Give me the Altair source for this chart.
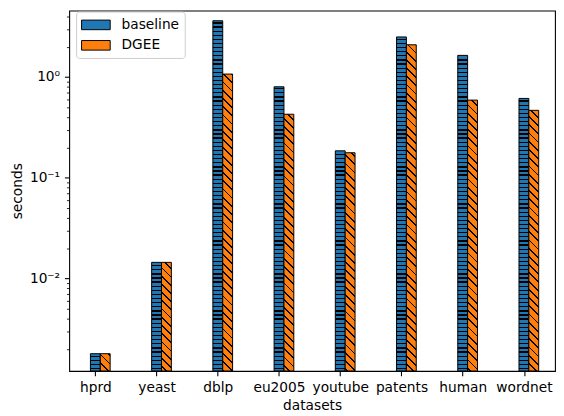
import math
import altair as alt
import pandas as pd

# ---- data ----
datasets = ["hprd", "yeast", "dblp", "eu2005", "youtube", "patents", "human", "wordnet"]
baseline = [0.00179, 0.01445, 3.62, 0.80, 0.185, 2.50, 1.64, 0.613]
dgee = [0.00179, 0.01445, 1.07, 0.427, 0.177, 2.09, 0.59, 0.467]
methods = ["baseline", "DGEE"]
colors = ["#1f77b4", "#ff7f0e"]
major_ticks = [0.01, 0.1, 1]
major_labels = ["10⁻²", "10⁻¹", "10⁰"]
minor_ticks = [0.002, 0.003, 0.004, 0.005, 0.006, 0.007, 0.008, 0.009,
               0.02, 0.03, 0.04, 0.05, 0.06, 0.07, 0.08, 0.09,
               0.2, 0.3, 0.4, 0.5, 0.6, 0.7, 0.8, 0.9,
               2, 3, 4]

# ---- layout / style ----
W, H = 492, 365
XMIN, XMAX = -0.427, 7.508
YMIN, YMAX = 0.001206, 4.569
BW = 0.161
FONT = "DejaVu Sans"
FS = 13.9

rows = []
for i, d in enumerate(datasets):
    for j, (m, vals) in enumerate(zip(methods, [baseline, dgee])):
        rows.append({"dataset": d, "method": m, "value": vals[i],
                     "x0": i + (j - 0.5) * BW, "x1": i + (j + 0.5) * BW,
                     "key": f"{d}|{m}"})
df = pd.DataFrame(rows)

LSPAN = math.log10(YMAX) - math.log10(YMIN)


def px_x(v):
    return (v - XMIN) / (XMAX - XMIN) * W


def px_y(v):
    return (math.log10(YMAX) - math.log10(v)) / LSPAN * H


def clamp(v):
    return round(min(max(v, 0.0), 1.0), 5)


def stripe_stops(bands, base, ink):
    stops = [{"offset": 0, "color": base}]
    for a, b in bands:
        a, b = clamp(a), clamp(b)
        if b <= 0 or a >= 1 or b <= a:
            continue
        stops += [{"offset": a, "color": base}, {"offset": a, "color": ink},
                  {"offset": b, "color": ink}, {"offset": b, "color": base}]
    stops.append({"offset": 1, "color": base})
    return stops


def hatch_h(top, h, base, P=100 / 24, T=1.3):
    bands = []
    for k in range(int(top // P) - 1, int(H // P) + 2):
        yb = k * P - top
        bands.append(((yb - T / 2) / h, (yb + T / 2) / h))
    return {"gradient": "linear", "x1": 0, "y1": 0, "x2": 0, "y2": 1,
            "stops": stripe_stops(bands, base, "black")}


def hatch_d(left, top, w, h, base, Q=100 / 12, T=1.3):
    half = T * math.sqrt(2) / 2
    shift = left - top
    bands = []
    for k in range(int(math.floor((-h + shift) / Q)) - 1, int(math.ceil((w + shift) / Q)) + 2):
        p = k * Q - shift
        bands.append(((p - half + h) / (w + h), (p + half + h) / (w + h)))
    s = (w + h) / (w * w + h * h)
    return {"gradient": "linear", "x1": 0, "y1": 1, "x2": round(w * s, 6), "y2": round(1 - h * s, 6),
            "stops": stripe_stops(bands, base, "black")}


conds = []
for r in rows:
    top = px_y(r["value"])
    h = H - top
    left = px_x(r["x0"])
    w = px_x(r["x1"]) - left
    if r["method"] == "baseline":
        g = hatch_h(top, h, colors[0])
    else:
        g = hatch_d(left, top, w, h, colors[1])
    conds.append({"test": f"datum.key === '{r['key']}'", "value": g})

yscale = alt.Scale(type="log", domain=[YMIN, YMAX], nice=False)
xscale = alt.Scale(domain=[XMIN, XMAX], nice=False, zero=False)

x_label_expr = "[" + ",".join(f"'{d}'" for d in datasets) + "][datum.value]"
y_label_expr = ("[" + ",".join(f"'{l}'" for l in major_labels) + "][indexof(["
                + ",".join(str(t) for t in major_ticks) + "], datum.value)]")

bars = alt.Chart(df).mark_rect(stroke="black", strokeWidth=1).encode(
    x=alt.X("x0:Q", scale=xscale,
            axis=alt.Axis(values=list(range(len(datasets))), labelExpr=x_label_expr,
                          title="datasets", tickSize=4.86, tickWidth=1.1, labelPadding=4.86,
                          titlePadding=4, labelFlush=False, labelOverlap=False)),
    x2="x1:Q",
    y=alt.Y("value:Q", scale=yscale,
            axis=alt.Axis(values=major_ticks, labelExpr=y_label_expr, title="seconds",
                          tickSize=4.86, tickWidth=1.1, labelPadding=4.86, titlePadding=5,
                          orient="left", labelFlush=False, labelOverlap=False)),
    y2=alt.datum(YMIN),
    fill=alt.Fill("method:N", scale=alt.Scale(domain=methods, range=colors),
                  legend=alt.Legend(title=None, orient="none", legendX=7, legendY=1,
                                    symbolType="M-1,-0.606L2.625,-0.606L2.625,0.606L-1,0.606Z",
                                    symbolSize=256, symbolStrokeColor="black", symbolStrokeWidth=1,
                                    labelFontSize=FS, labelFont=FONT, labelColor="black",
                                    labelOffset=24, rowPadding=4.7, padding=5,
                                    strokeColor="#cccccc", fillColor="white", cornerRadius=3),
                  condition=conds),
)

minor = alt.Chart(df).mark_rule(opacity=0).encode(
    y=alt.Y("value:Q", scale=yscale,
            axis=alt.Axis(values=minor_ticks, orient="left", labels=False, tickSize=2.78,
                          tickWidth=0.83, title=None, domain=False, grid=False)),
)

chart = alt.layer(bars, minor).resolve_axis(y="independent").properties(
    width=W, height=H, autosize="none",
    padding={"left": 62, "top": 0, "right": 1, "bottom": 43},
).configure_view(stroke="black", strokeWidth=1.1).configure_axis(
    labelFont=FONT, titleFont=FONT, labelFontSize=FS, titleFontSize=FS,
    labelColor="black", titleColor="black", tickColor="black",
    titleFontWeight="normal", grid=False, domain=False,
)

chart.save("out.html", embed_options={"renderer": "svg", "actions": False})
